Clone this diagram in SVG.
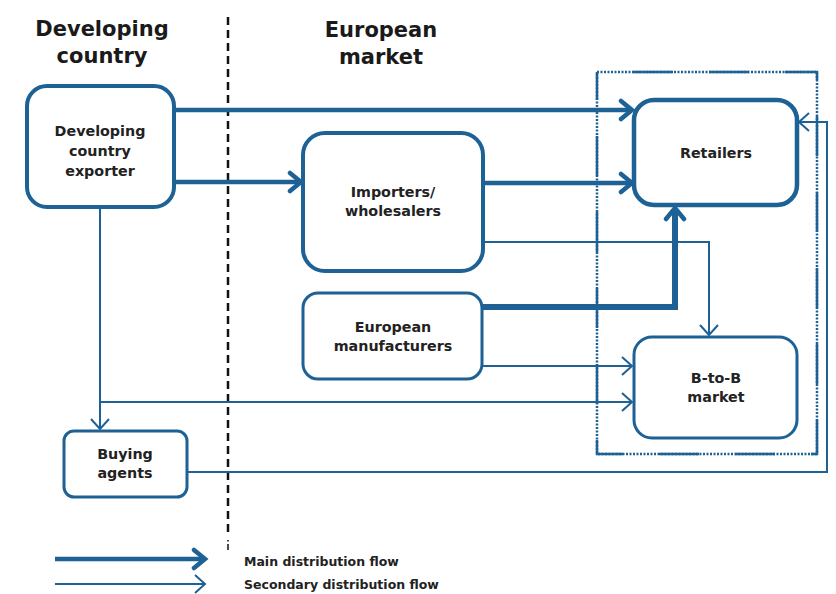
<svg xmlns="http://www.w3.org/2000/svg" width="836" height="594" viewBox="0 0 836 594">
<style>
.node{fill:#fff;stroke:#1d6195}
.t{font-family:"DejaVu Sans",Verdana,sans-serif;font-weight:bold;fill:#222;text-anchor:middle;font-size:14.3px}
.h{font-family:"DejaVu Sans",Verdana,sans-serif;font-weight:bold;fill:#1a1a1a;text-anchor:middle;font-size:21px}
.lg{font-family:"DejaVu Sans",Verdana,sans-serif;font-weight:bold;fill:#222;font-size:12.5px}
.main{fill:none;stroke:#1d6195;stroke-width:4.5;marker-end:url(#am)}
.sec{fill:none;stroke:#1d6195;stroke-width:2;marker-end:url(#as)}
</style>
<defs>
<marker id="am" markerUnits="userSpaceOnUse" markerWidth="24" markerHeight="24" viewBox="0 0 24 24" refX="18" refY="12" orient="auto">
<path d="M7,3 L18,12 L7,21" fill="none" stroke="#1d6195" stroke-width="4.5" stroke-linecap="round"/>
</marker>
<marker id="as" markerUnits="userSpaceOnUse" markerWidth="24" markerHeight="24" viewBox="0 0 24 24" refX="15" refY="12" orient="auto">
<path d="M5,3 L15,12 L5,21" fill="none" stroke="#1d6195" stroke-width="2"/>
</marker>
</defs>
<rect width="836" height="594" fill="#fff"/>

<!-- headers -->
<text class="h" x="102" y="36">Developing</text>
<text class="h" x="102" y="63">country</text>
<text class="h" x="381" y="37">European</text>
<text class="h" x="381" y="64">market</text>

<!-- divider -->
<line x1="228" y1="17" x2="228" y2="532" stroke="#111" stroke-width="2.5" stroke-dasharray="8 5"/>
<line x1="228" y1="540" x2="228" y2="541.5" stroke="#111" stroke-width="1.5"/>
<line x1="228" y1="544" x2="228" y2="550" stroke="#111" stroke-width="1.5"/>

<!-- dotted region -->
<rect x="597" y="72" width="220" height="382" fill="none" stroke="#1d6195" stroke-width="2.5" stroke-dasharray="2 1.5"/>
<rect x="597" y="72" width="220" height="382" fill="none" stroke="#1d6195" stroke-width="2.5" stroke-dasharray="0 36 40 0"/>

<g id="connectors">
<path class="main" d="M175,110 H632"/>
<path class="main" d="M175,182 H301"/>
<path class="main" d="M483,183 H632"/>
<path class="sec" d="M483,242 H709 V335"/>
<path fill="none" stroke="#1d6195" stroke-width="6" marker-end="url(#am)" d="M483,307 H675 V208"/>
<path class="sec" d="M483,366 H632"/>
<path class="sec" d="M100,208 V429"/>
<path class="sec" d="M100,402 H632"/>
<path class="sec" d="M187,472 H827 V122 H799"/>
</g>

<g id="exporter">
<rect class="node" x="27" y="86" width="147" height="121" rx="20" stroke-width="4"/>
<text class="t" x="100" y="136">Developing</text>
<text class="t" x="100" y="156">country</text>
<text class="t" x="100" y="176">exporter</text>
</g>
<g id="importers">
<rect class="node" x="303" y="133" width="180" height="138" rx="22" stroke-width="4"/>
<text class="t" x="393" y="197">Importers/</text>
<text class="t" x="393" y="216">wholesalers</text>
</g>
<g id="manufacturers">
<rect class="node" x="303" y="293" width="179" height="86" rx="15" stroke-width="3"/>
<text class="t" x="393" y="332">European</text>
<text class="t" x="393" y="351">manufacturers</text>
</g>
<g id="retailers">
<rect class="node" x="634" y="100" width="163" height="105" rx="20" stroke-width="4.5"/>
<text class="t" x="716" y="158">Retailers</text>
</g>
<g id="btob">
<rect class="node" x="634" y="337" width="163" height="101" rx="18" stroke-width="3"/>
<text class="t" x="716" y="383">B-to-B</text>
<text class="t" x="716" y="402">market</text>
</g>
<g id="agents">
<rect class="node" x="64" y="431" width="123" height="66" rx="10" stroke-width="3"/>
<text class="t" x="125" y="459">Buying</text>
<text class="t" x="125" y="478">agents</text>
</g>

<g id="legend">
<path class="main" d="M55,559 H205"/>
<path class="sec" d="M55,584 H205"/>
<text class="lg" x="244" y="566">Main distribution flow</text>
<text class="lg" x="244" y="589">Secondary distribution flow</text>
</g>
</svg>
